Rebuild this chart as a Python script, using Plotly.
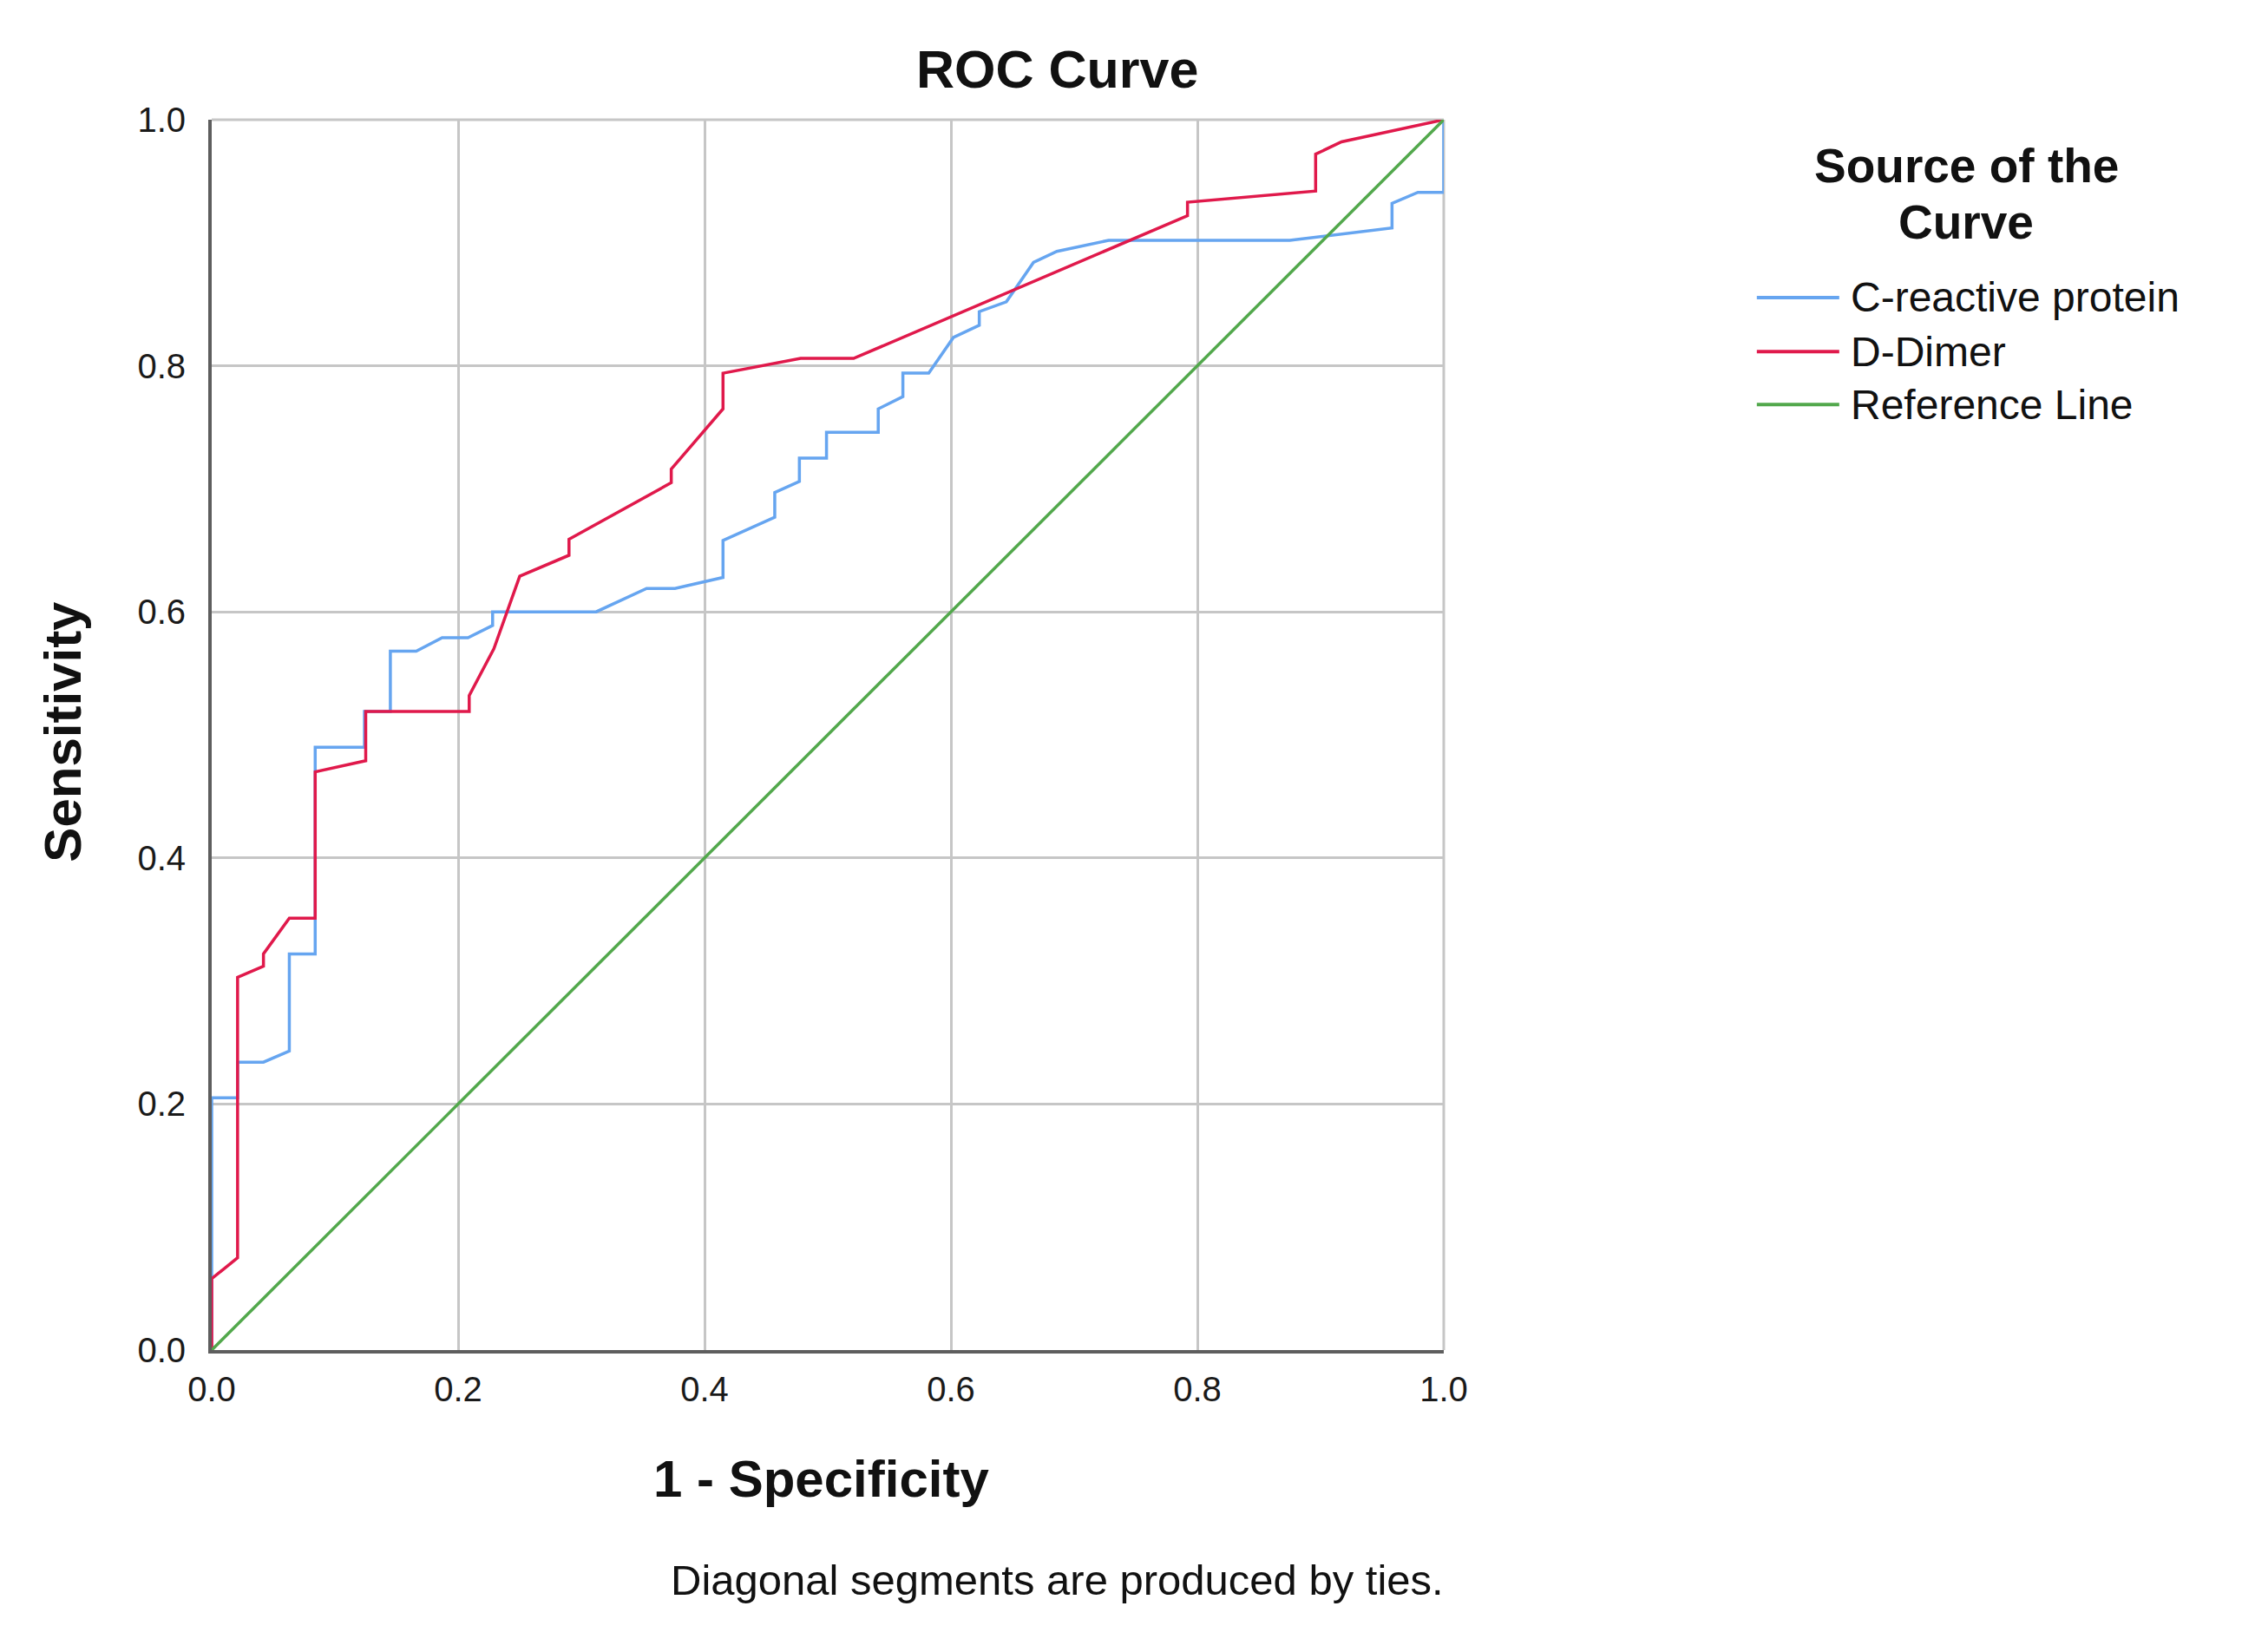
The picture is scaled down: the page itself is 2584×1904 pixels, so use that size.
import plotly.graph_objects as go

# ROC coordinates (1 - specificity, sensitivity)
crp_fpr = [0.0, 0.0, 0.021, 0.021, 0.042, 0.063, 0.063, 0.084, 0.084, 0.124,
           0.124, 0.145, 0.145, 0.166, 0.187, 0.208, 0.228, 0.228, 0.312, 0.353,
           0.376, 0.415, 0.415, 0.457, 0.457, 0.477, 0.477, 0.499, 0.499, 0.541,
           0.541, 0.561, 0.561, 0.582, 0.602, 0.623, 0.623, 0.645, 0.667, 0.686,
           0.728, 0.875, 0.958, 0.958, 0.979, 1.0, 1.0]
crp_tpr = [0.0, 0.205, 0.205, 0.234, 0.234, 0.243, 0.322, 0.322, 0.490, 0.490,
           0.519, 0.519, 0.568, 0.568, 0.579, 0.579, 0.589, 0.600, 0.600, 0.619,
           0.619, 0.628, 0.658, 0.677, 0.697, 0.706, 0.725, 0.725, 0.746, 0.746,
           0.765, 0.775, 0.794, 0.794, 0.823, 0.833, 0.844, 0.852, 0.884, 0.893,
           0.902, 0.902, 0.912, 0.932, 0.941, 0.941, 1.0]

ddimer_fpr = [0.0, 0.0, 0.021, 0.021, 0.042, 0.042, 0.063, 0.084, 0.084, 0.125,
              0.125, 0.209, 0.209, 0.229, 0.250, 0.290, 0.290, 0.373, 0.373, 0.415,
              0.415, 0.478, 0.521, 0.792, 0.792, 0.896, 0.896, 0.917, 1.0]
ddimer_tpr = [0.0, 0.058, 0.075, 0.303, 0.312, 0.322, 0.351, 0.351, 0.470, 0.479,
              0.519, 0.519, 0.532, 0.570, 0.629, 0.646, 0.659, 0.705, 0.716, 0.765,
              0.794, 0.806, 0.806, 0.922, 0.933, 0.942, 0.972, 0.982, 1.0]

ref_x = [0.0, 1.0]
ref_y = [0.0, 1.0]

series_names = ["C-reactive protein", "D-Dimer", "Reference Line"]
series_colors = ["#66A5F0", "#E0194B", "#52A84C"]
tick_vals = [0.0, 0.2, 0.4, 0.6, 0.8, 1.0]
tick_text = ["0.0", "0.2", "0.4", "0.6", "0.8", "1.0"]

FONT = "Liberation Sans, Arial, sans-serif"

fig = go.Figure()
for xs, ys, name, col in zip([crp_fpr, ddimer_fpr, ref_x], [crp_tpr, ddimer_tpr, ref_y],
                             series_names, series_colors):
    fig.add_trace(go.Scatter(x=xs, y=ys, mode="lines", name=name,
                             line=dict(color=col, width=3.5), showlegend=False))

axis_common = dict(
    range=[0, 1], tickvals=tick_vals, ticktext=tick_text,
    showgrid=True, gridcolor="#c6c6c6", gridwidth=3,
    zeroline=False, showline=True, linecolor="#5e5e5e", linewidth=4,
    ticks="", tickfont=dict(family=FONT, size=40, color="#1a1a1a"),
    layer="below traces", fixedrange=True,
)
fig.update_xaxes(**axis_common, ticklabelstandoff=7)
fig.update_yaxes(**axis_common, ticklabelstandoff=18)

# light frame on top and right, like the gridlines
fig.add_shape(type="line", xref="paper", yref="paper", x0=0, x1=1, y0=1, y1=1,
              line=dict(color="#c6c6c6", width=3), layer="below")
fig.add_shape(type="line", xref="paper", yref="paper", x0=1, x1=1, y0=0, y1=1,
              line=dict(color="#c6c6c6", width=3), layer="below")

annotations = [
    dict(text="<b>ROC Curve</b>", x=0.686, y=1.041, size=61),
    dict(text="<b>Sensitivity</b>", x=-0.1205, y=0.503, size=60, angle=-90),
    dict(text="<b>1 - Specificity</b>", x=0.495, y=-0.105, size=60),
    dict(text="Diagonal segments are produced by ties.", x=0.686, y=-0.187, size=49),
    dict(text="<b>Source of the</b>", x=1.424, y=0.9625, size=55),
    dict(text="<b>Curve</b>", x=1.424, y=0.9165, size=55),
]
for a in annotations:
    fig.add_annotation(text=a["text"], x=a["x"], y=a["y"], xref="paper", yref="paper",
                       showarrow=False, xanchor="center", yanchor="middle",
                       textangle=a.get("angle", 0), borderpad=0,
                       font=dict(family=FONT, size=a["size"], color="#111111"))

# hand-drawn legend to match the long line samples
legend_y = [0.8555, 0.8115, 0.7685]
for name, col, yy in zip(series_names, series_colors, legend_y):
    fig.add_shape(type="line", xref="paper", yref="paper", x0=1.2541, x1=1.3210,
                  y0=yy, y1=yy, line=dict(color=col, width=4))
    fig.add_annotation(text=name, x=1.3290, y=yy, xref="paper", yref="paper",
                       showarrow=False, xanchor="left", yanchor="middle",
                       font=dict(family=FONT, size=48, color="#111111"))

fig.update_layout(
    width=2584, height=1904,
    margin=dict(l=236, r=928, t=130, b=356),
    paper_bgcolor="white", plot_bgcolor="white",
    showlegend=False,
)

fig.write_html("out.html")
